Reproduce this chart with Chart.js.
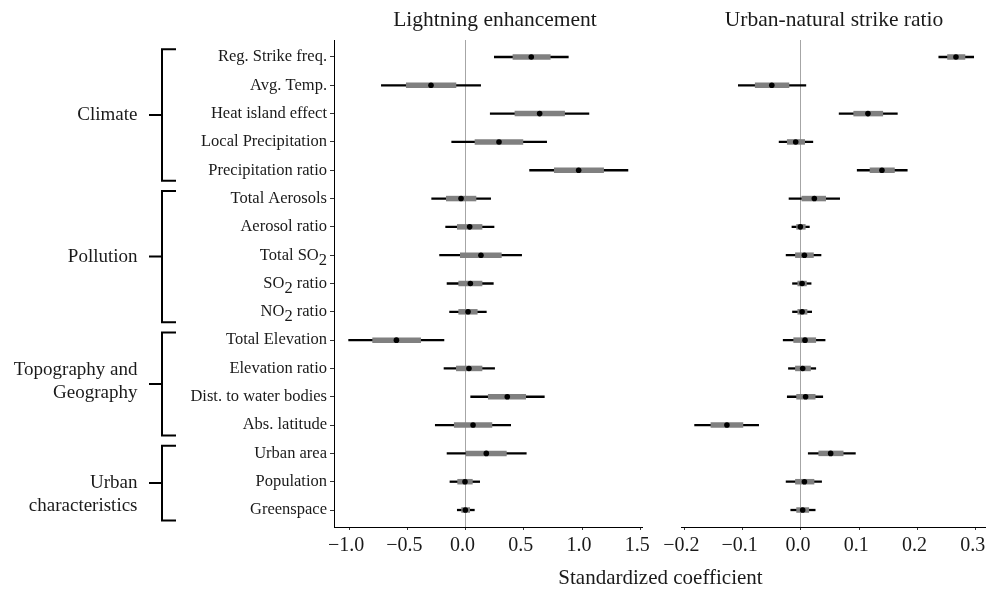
<!DOCTYPE html>
<html>
<head>
<meta charset="utf-8">
<script src="https://cdn.jsdelivr.net/npm/chart.js@4.4.0/dist/chart.umd.min.js"></script>
<style>
  html, body { margin: 0; padding: 0; background: #fff; overflow: hidden; }
  body { width: 986px; height: 589px; position: relative; font-family: "Liberation Serif", serif; color: #1a1a1a; }
  canvas { position: absolute; top: 0; }
  #leftChart { left: 0; }
  #rightChart { left: 660px; }
  .txt { position: absolute; white-space: nowrap; transform: translateX(-50%); }
  .panelTitle { font-size: 21.5px; line-height: 21.5px; top: 8.7px; }
  #xTitle { font-size: 21px; line-height: 21px; top: 567.4px; left: 660.5px; }
</style>
</head>
<body>
<canvas id="leftChart" width="660" height="589"></canvas>
<canvas id="rightChart" width="340" height="589"></canvas>
<div class="txt panelTitle" style="left:495px">Lightning enhancement</div>
<div class="txt panelTitle" style="left:834px">Urban-natural strike ratio</div>
<div class="txt" id="xTitle">Standardized coefficient</div>

<script>
// rows, top to bottom
const variables = ["Reg. Strike freq.", "Avg. Temp.", "Heat island effect", "Local Precipitation",
  "Precipitation ratio", "Total Aerosols", "Aerosol ratio", "Total SO₂", "SO₂ ratio", "NO₂ ratio",
  "Total Elevation", "Elevation ratio", "Dist. to water bodies", "Abs. latitude",
  "Urban area", "Population", "Greenspace"];

const groups = ["Climate", "Pollution", "Topography and\nGeography", "Urban\ncharacteristics"];
const groupFirst = [1, 6, 11, 15];
const groupLast = [5, 10, 14, 17];

// Lightning enhancement
const enhEst   = [0.564, -0.297, 0.636, 0.287, 0.971, -0.039, 0.035, 0.132, 0.041, 0.021, -0.594, 0.029, 0.358, 0.064, 0.178, -0.005, -0.002];
const enhLow50 = [0.404, -0.512, 0.421, 0.078, 0.759, -0.168, -0.074, -0.048, -0.062, -0.062, -0.801, -0.082, 0.192, -0.100, 0.001, -0.071, -0.037];
const enhHi50  = [0.730, -0.080, 0.853, 0.495, 1.188, 0.092, 0.144, 0.310, 0.144, 0.103, -0.383, 0.144, 0.519, 0.229, 0.353, 0.061, 0.038];
const enhLow95 = [0.244, -0.726, 0.209, -0.122, 0.547, -0.294, -0.174, -0.226, -0.162, -0.140, -1.007, -0.188, 0.041, -0.263, -0.162, -0.137, -0.074];
const enhHi95  = [0.885, 0.132, 1.062, 0.699, 1.397, 0.218, 0.247, 0.484, 0.241, 0.181, -0.183, 0.252, 0.679, 0.390, 0.524, 0.124, 0.078];
const enhTicks = [-1.0, -0.5, 0.0, 0.5, 1.0, 1.5];

// Urban-natural strike ratio
const ratEst   = [0.266, -0.050, 0.115, -0.009, 0.139, 0.023, -0.001, 0.006, 0.002, 0.002, 0.007, 0.003, 0.008, -0.127, 0.051, 0.006, 0.003];
const ratLow50 = [0.251, -0.079, 0.090, -0.024, 0.118, 0.001, -0.008, -0.010, -0.006, -0.006, -0.013, -0.010, -0.008, -0.155, 0.030, -0.010, -0.008];
const ratHi50  = [0.282, -0.020, 0.141, 0.007, 0.161, 0.043, 0.008, 0.022, 0.010, 0.011, 0.026, 0.017, 0.025, -0.099, 0.073, 0.023, 0.014];
const ratLow95 = [0.236, -0.108, 0.065, -0.038, 0.096, -0.021, -0.016, -0.026, -0.015, -0.015, -0.031, -0.022, -0.024, -0.183, 0.012, -0.026, -0.018];
const ratHi95  = [0.297, 0.009, 0.166, 0.021, 0.183, 0.067, 0.015, 0.035, 0.018, 0.019, 0.042, 0.026, 0.038, -0.072, 0.094, 0.036, 0.025];
const ratTicks = [-0.2, -0.1, 0.0, 0.1, 0.2, 0.3];

const SERIF = '"Liberation Serif", "Times New Roman", serif';
Chart.defaults.font.family = SERIF;

function fmt(v) {
  return (v < 0 ? '\u2212' : '') + Math.abs(v).toFixed(1);
}

// label with a lowered "2" for the chemical formulas
function drawLabel(ctx, text, right, y) {
  const parts = text.split('₂');
  if (parts.length === 1) {
    ctx.textAlign = 'right';
    ctx.fillText(text, right, y);
    return;
  }
  const w0 = ctx.measureText(parts[0]).width;
  const w2 = ctx.measureText('2').width;
  const w1 = ctx.measureText(parts[1]).width;
  let x = right - (w0 + w2 + w1);
  ctx.textAlign = 'left';
  ctx.fillText(parts[0], x, y); x += w0;
  ctx.fillText('2', x, y + 5); x += w2;
  ctx.fillText(parts[1], x, y);
}

const groupShift = [0, 0, -2, 11];

const leftDecor = {
  id: 'leftDecor',
  afterDraw(chart) {
    const ctx = chart.ctx, ys = chart.scales.y;
    ctx.save();
    ctx.fillStyle = '#1a1a1a';
    ctx.textBaseline = 'middle';
    ctx.font = '16.5px ' + SERIF;
    variables.forEach((name, i) => drawLabel(ctx, name, 327, ys.getPixelForValue(i + 1)));

    // group brackets
    ctx.strokeStyle = '#000';
    ctx.lineWidth = 2;
    ctx.font = '19px ' + SERIF;
    ctx.textAlign = 'right';
    groups.forEach((g, k) => {
      const top = ys.getPixelForValue(groupFirst[k] - 0.27);
      const bot = ys.getPixelForValue(groupLast[k] + 0.37);
      const mid = (top + bot) / 2;
      ctx.beginPath();
      ctx.moveTo(176, top); ctx.lineTo(162, top); ctx.lineTo(162, bot); ctx.lineTo(176, bot);
      ctx.moveTo(149, mid); ctx.lineTo(162, mid);
      ctx.stroke();
      const lines = g.split('\n');
      const lh = 23;
      const y0 = mid + groupShift[k] - (lines.length - 1) * lh / 2;
      lines.forEach((t, j) => ctx.fillText(t, 137.5, y0 + j * lh));
    });
    ctx.restore();
  }
};

function makeChart(id, est, lo50, hi50, lo95, hi95, xMin, xMax, xTicks, showY, pad, plugins) {
  const rows = variables.map((v, i) => i + 1);
  return new Chart(document.getElementById(id), {
    type: 'bar',
    data: {
      datasets: [
        { type: 'bar', indexAxis: 'y', grouped: false, order: 3,
          data: rows.map((r, i) => ({ y: r, x: [lo95[i], hi95[i]] })),
          backgroundColor: '#000', barThickness: 2.3, borderWidth: 0, inflateAmount: 0 },
        { type: 'bar', indexAxis: 'y', grouped: false, order: 2,
          data: rows.map((r, i) => ({ y: r, x: [lo50[i], hi50[i]] })),
          backgroundColor: '#808080', barThickness: 5.5, borderWidth: 0, inflateAmount: 0 },
        { type: 'scatter', order: 1,
          data: rows.map((r, i) => ({ x: est[i], y: r })),
          pointRadius: 2.8, pointBackgroundColor: '#000', pointBorderWidth: 0 }
      ]
    },
    options: {
      responsive: false,
      animation: false,
      indexAxis: 'y',
      layout: { padding: pad },
      plugins: { legend: { display: false }, tooltip: { enabled: false } },
      scales: {
        x: {
          type: 'linear', min: xMin, max: xMax, offset: false,
          afterBuildTicks: s => { s.ticks = xTicks.map(v => ({ value: v })); },
          afterFit: s => { s.height = 62; },
          grid: {
            offset: false,
            color: c => (c.tick && c.tick.value === 0) ? '#a6a6a6' : 'rgba(0,0,0,0)',
            tickColor: '#333', tickLength: 3, lineWidth: 1
          },
          border: { display: true, color: '#000', width: 1 },
          ticks: { font: { size: 20 }, color: '#1a1a1a', padding: 4, maxRotation: 0, labelOffset: -3,
                   callback: v => fmt(v) }
        },
        y: {
          type: 'linear', min: 0.4, max: 17.6, reverse: true, display: showY, offset: false,
          afterBuildTicks: s => { s.ticks = rows.map(r => ({ value: r })); },
          afterFit: s => { if (showY) s.width = 334; },
          grid: { offset: false, drawOnChartArea: false, tickLength: 4, color: '#333' },
          border: { display: true, color: '#000', width: 1 },
          ticks: { display: false }
        }
      }
    },
    plugins: plugins
  });
}

makeChart('leftChart', enhEst, enhLow50, enhHi50, enhLow95, enhHi95, -1.13, 1.515, enhTicks, true,
  { top: 40, right: 18, bottom: 0, left: 0 }, [leftDecor]);
makeChart('rightChart', ratEst, ratLow50, ratHi50, ratLow95, ratHi95, -0.2058, 0.321, ratTicks, false,
  { top: 40, right: 12, bottom: 0, left: 21 }, []);
</script>
</body>
</html>
